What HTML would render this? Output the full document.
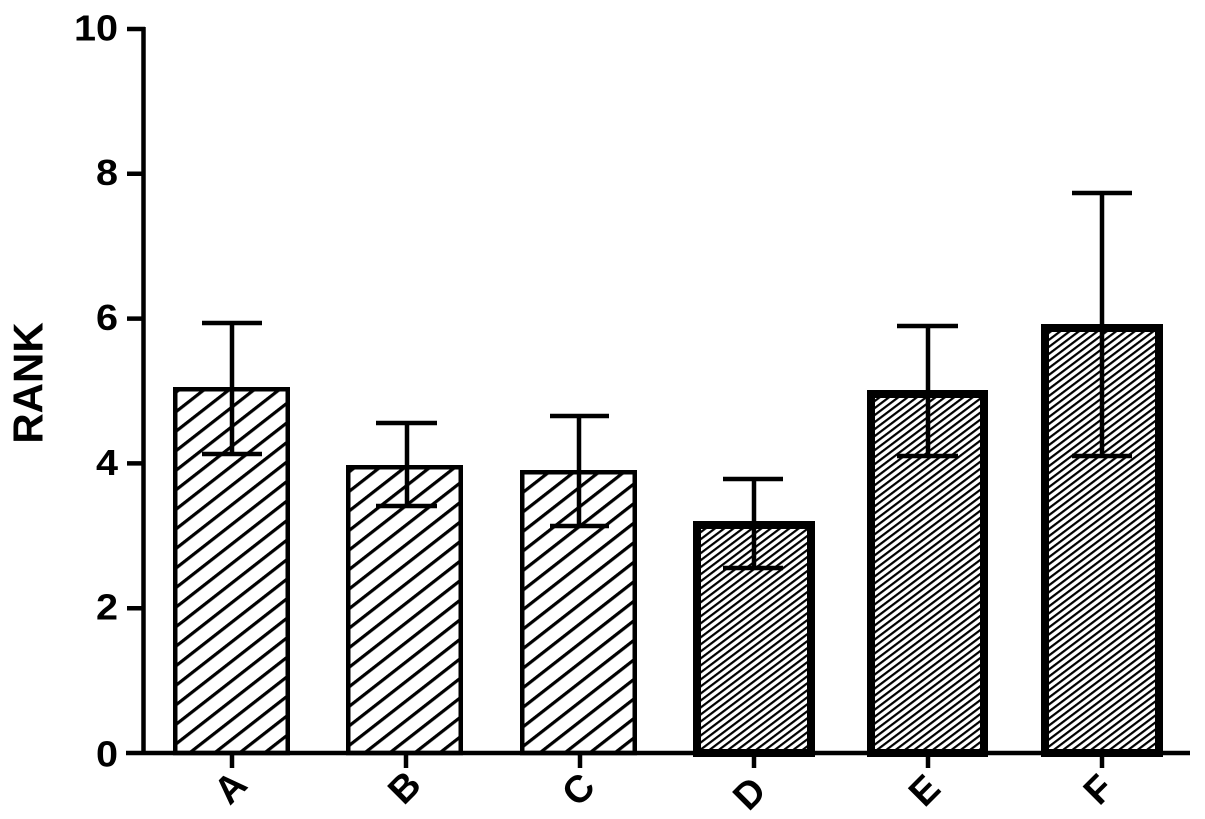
<!DOCTYPE html>
<html>
<head>
<meta charset="utf-8">
<style>
  html, body { margin: 0; padding: 0; background: #ffffff; }
  svg { display: block; }
  text { font-family: "Liberation Sans", Arial, sans-serif; font-weight: bold; fill: #000; }
</style>
</head>
<body>
<svg width="1205" height="819" viewBox="0 0 1205 819" xmlns="http://www.w3.org/2000/svg">
  <defs>
    <pattern id="hatchWide" patternUnits="userSpaceOnUse" width="20" height="15.4" patternTransform="rotate(-38)">
      <rect x="0" y="0" width="20" height="3.2" fill="#000"/>
    </pattern>
    <pattern id="hatchDense" patternUnits="userSpaceOnUse" width="20" height="5.6" patternTransform="rotate(-37)">
      <rect x="0" y="0" width="20" height="2.2" fill="#000"/>
    </pattern>
  </defs>

  <rect x="0" y="0" width="1205" height="819" fill="#fff"/>

  <!-- Bars A-C (thin outline, wide hatch) -->
  <rect x="175.25" y="389.25" width="112.5" height="363.75" fill="url(#hatchWide)" stroke="#000" stroke-width="4.5"/>
  <rect x="348.25" y="467.25" width="112.5" height="285.75" fill="url(#hatchWide)" stroke="#000" stroke-width="4.5"/>
  <rect x="522.25" y="472.25" width="112.5" height="280.75" fill="url(#hatchWide)" stroke="#000" stroke-width="4.5"/>

  <!-- Bars D-F (thick outline, dense hatch) -->
  <rect x="697" y="525" width="114" height="228" fill="url(#hatchDense)" stroke="#000" stroke-width="8"/>
  <rect x="871" y="394" width="113" height="359" fill="url(#hatchDense)" stroke="#000" stroke-width="8"/>
  <rect x="1045" y="328" width="114" height="425" fill="url(#hatchDense)" stroke="#000" stroke-width="8"/>

  <!-- Error bars -->
  <g stroke="#000" stroke-width="4.5" fill="none">
    <line x1="232" y1="323" x2="232" y2="454"/>
    <line x1="202" y1="323" x2="262" y2="323"/>
    <line x1="202" y1="454" x2="262" y2="454"/>

    <line x1="407" y1="423" x2="407" y2="506"/>
    <line x1="376" y1="423" x2="437" y2="423"/>
    <line x1="376" y1="506" x2="437" y2="506"/>

    <line x1="579" y1="416" x2="579" y2="526"/>
    <line x1="550" y1="416" x2="609" y2="416"/>
    <line x1="550" y1="526" x2="609" y2="526"/>

    <line x1="754" y1="479" x2="754" y2="568"/>
    <line x1="723" y1="479" x2="783" y2="479"/>
    <line x1="723" y1="568" x2="783" y2="568"/>

    <line x1="928" y1="326" x2="928" y2="456"/>
    <line x1="897" y1="326" x2="958" y2="326"/>
    <line x1="897" y1="456" x2="958" y2="456"/>

    <line x1="1102" y1="193" x2="1102" y2="456"/>
    <line x1="1072" y1="193" x2="1132" y2="193"/>
    <line x1="1072" y1="456" x2="1132" y2="456"/>
  </g>

  <!-- Axes -->
  <g stroke="#000" stroke-width="4.5" fill="none">
    <line x1="143.5" y1="27" x2="143.5" y2="755"/>
    <line x1="126" y1="753" x2="1190" y2="753"/>
    <!-- y ticks -->
    <line x1="127" y1="29" x2="145" y2="29"/>
    <line x1="127" y1="173.8" x2="145" y2="173.8"/>
    <line x1="127" y1="318.6" x2="145" y2="318.6"/>
    <line x1="127" y1="463.4" x2="145" y2="463.4"/>
    <line x1="127" y1="608.2" x2="145" y2="608.2"/>
    <!-- x ticks -->
    <line x1="232" y1="753" x2="232" y2="768"/>
    <line x1="406" y1="753" x2="406" y2="768"/>
    <line x1="580" y1="753" x2="580" y2="768"/>
    <line x1="754" y1="753" x2="754" y2="768"/>
    <line x1="928" y1="753" x2="928" y2="768"/>
    <line x1="1102" y1="753" x2="1102" y2="768"/>
  </g>

  <!-- Y tick labels -->
  <g font-size="36" text-anchor="end" dominant-baseline="central">
    <text x="118" y="29" transform="translate(118 0) scale(1.1 1) translate(-118 0)">10</text>
    <text x="118" y="173.8" transform="translate(118 0) scale(1.1 1) translate(-118 0)">8</text>
    <text x="118" y="318.6" transform="translate(118 0) scale(1.1 1) translate(-118 0)">6</text>
    <text x="118" y="463.4" transform="translate(118 0) scale(1.1 1) translate(-118 0)">4</text>
    <text x="118" y="608.2" transform="translate(118 0) scale(1.1 1) translate(-118 0)">2</text>
    <text x="118" y="755" transform="translate(118 0) scale(1.1 1) translate(-118 0)">0</text>
  </g>

  <!-- Y axis title -->
  <text x="28" y="383" font-size="42" text-anchor="middle" dominant-baseline="central" transform="rotate(-90 28 383)">RANK</text>

  <!-- X labels -->
  <g font-size="38" text-anchor="middle" dominant-baseline="central">
    <text x="231" y="788" transform="rotate(-45 231 788)">A</text>
    <text x="405" y="788" transform="rotate(-45 405 788)">B</text>
    <text x="579" y="790" transform="rotate(-45 579 790)">C</text>
    <text x="750" y="794" transform="rotate(-45 750 794)">D</text>
    <text x="925" y="791" transform="rotate(-45 925 791)">E</text>
    <text x="1099" y="790" transform="rotate(-45 1099 790)">F</text>
  </g>
</svg>
</body>
</html>
